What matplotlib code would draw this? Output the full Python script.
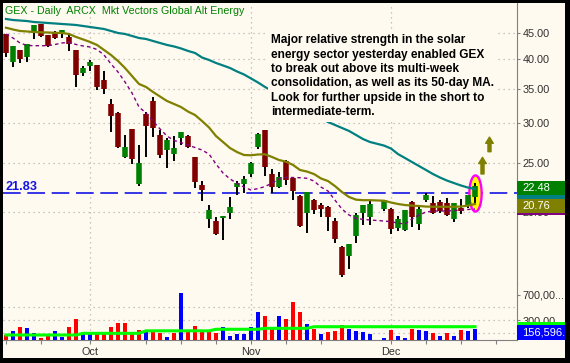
import matplotlib.pyplot as plt
import matplotlib.transforms as mtransforms
from matplotlib.patches import Rectangle
from matplotlib.path import Path
import numpy as np
import pandas as pd

plt.rcParams["font.family"] = ["Liberation Sans", "DejaVu Sans"]

nan = np.nan

# GEX daily bars 15 Sep - 17 Dec 2008, Thanksgiving (27 Nov) is blank
dates = pd.bdate_range("2008-09-15", "2008-12-17")
axis_days = pd.bdate_range("2008-09-15", "2008-12-26")

opens = [44.80, 39.47, 41.67, 40.37, 45.00, 46.81, 44.60, 44.94, 44.74, 44.26,
         41.67, 37.55, 38.76, 38.93, 36.38, 32.64, 31.37, 25.71, 29.15, 22.72,
         31.19, 33.08, 28.37, 26.50, 26.02, 28.02, 28.28, 25.71, 22.62, 19.40,
         19.22, 19.51, 19.95, 22.41, 22.72, 23.77, 26.86, 29.02, 23.77, 22.44,
         25.27, 23.35, 21.52, 19.95, 21.12, 20.66, 20.47, 19.22, 17.11, 16.42,
         17.98, 19.95, 19.60, nan, 20.25, 20.34, 18.59, 18.45, 20.97, 18.96,
         21.12, 20.82, 20.97, 20.82, 19.40, 20.38, 20.57, 21.40]
highs = [44.85, 42.45, 41.70, 42.85, 46.70, 46.85, 44.62, 45.47, 45.63, 45.00,
         41.70, 38.76, 39.83, 38.95, 37.89, 33.38, 31.47, 28.37, 29.18, 27.10,
         31.47, 33.68, 29.02, 27.98, 28.23, 28.75, 28.40, 25.73, 23.03, 20.66,
         19.57, 19.68, 21.45, 23.08, 23.56, 25.05, 28.56, 29.05, 24.29, 24.01,
         25.33, 23.38, 21.62, 21.96, 21.28, 20.85, 20.57, 19.45, 17.13, 17.34,
         19.90, 20.68, 21.08, nan, 21.14, 20.36, 19.62, 20.22, 21.04, 20.50,
         21.78, 21.52, 21.12, 21.33, 20.84, 21.23, 21.64, 22.79]
lows = [40.37, 38.58, 39.29, 39.47, 43.89, 44.20, 42.24, 43.79, 43.99, 41.54,
        35.30, 37.05, 37.89, 34.77, 34.15, 28.79, 26.78, 25.60, 24.88, 22.55,
        25.71, 28.15, 25.56, 24.43, 25.26, 27.10, 26.78, 22.34, 21.07, 18.64,
        18.04, 17.63, 19.40, 21.62, 21.84, 23.42, 26.62, 23.56, 21.81, 22.28,
        22.62, 21.12, 18.72, 18.23, 19.84, 19.57, 18.36, 17.43, 14.91, 15.46,
        17.43, 18.87, 18.87, nan, 20.14, 18.12, 18.40, 18.39, 18.70, 18.45,
        20.94, 19.84, 19.90, 19.62, 19.16, 19.84, 20.38, 20.82]
closes = [41.11, 42.43, 40.01, 42.82, 46.66, 44.46, 42.43, 43.93, 45.61, 42.76,
          37.21, 38.41, 39.52, 35.25, 34.93, 30.95, 26.90, 26.85, 25.44, 25.02,
          29.58, 29.24, 25.91, 27.73, 26.78, 28.71, 26.90, 22.95, 22.11, 20.20,
          18.12, 19.66, 20.47, 22.82, 23.21, 25.02, 28.43, 24.58, 22.38, 23.49,
          23.14, 22.04, 18.78, 21.94, 20.20, 20.29, 19.60, 17.71, 15.04, 17.32,
          19.75, 20.66, 20.75, nan, 21.12, 18.57, 19.40, 20.20, 19.60, 20.29,
          21.62, 19.97, 20.11, 19.75, 20.82, 20.11, 21.62, 22.48]
volumes = [70000, 132000, 195000, 179000, 101000, 23000, 70000, 132000, 39000, 195000,
           319000, 86000, 117000, 117000, 86000, 195000, 257000, 257000, 86000, 148000,
           148000, 148000, 101000, 39000, 101000, 724000, 148000, 210000, 148000, 132000,
           106000, 195000, 54000, 86000, 86000, 195000, 428000, 366000, 163000, 366000,
           319000, 584000, 428000, 241000, 163000, 86000, 117000, 132000, 226000, 163000,
           132000, 117000, 86000, nan, 23000, 148000, 54000, 23000, 163000, 148000,
           132000, 96000, 54000, 96000, 54000, 148000, 132000, 156596]

# moving averages as drawn on the chart
ma50 = [47.94, 47.72, 47.61, 47.50, 47.29, 47.19, 47.08, 46.98, 46.87, 46.77,
        46.66, 46.45, 46.24, 46.03, 45.82, 45.41, 45.00, 44.80, 44.40, 43.99,
        43.80, 43.40, 43.01, 42.63, 42.34, 41.96, 41.49, 41.11, 40.28, 39.83,
        39.29, 38.85, 38.41, 37.81, 37.30, 36.63, 35.97, 35.25, 34.61, 33.91,
        33.30, 32.78, 32.19, 31.69, 31.19, 30.63, 30.08, 29.68, 29.28, 28.89,
        28.37, 27.85, 27.48, nan, 27.04, 26.68, 26.02, 25.56, 25.10, 24.65,
        24.21, 23.77, 23.40, 23.08, 22.82, 22.57, 22.36, 22.21]
ma20 = [46.09, 45.72, 45.41, 45.31, 45.20, 45.14, 45.10, 45.04, 45.00, 44.80,
        44.20, 43.71, 43.21, 42.63, 41.67, 40.74, 39.64, 38.41, 37.04, 35.73,
        35.25, 34.46, 33.76, 33.08, 32.64, 32.19, 31.54, 31.05, 30.22, 29.35,
        28.23, 27.48, 26.74, 26.26, 25.91, 25.88, 25.97, 25.99, 25.68, 25.33,
        25.14, 24.77, 24.21, 24.04, 23.77, 23.30, 23.03, 22.51, 21.91, 21.43,
        21.17, 21.12, 21.12, nan, 21.07, 20.90, 20.76, 20.66, 20.61, 20.57,
        20.52, 20.50, 20.50, 20.50, 20.50, 20.52, 20.61, 20.76]
ma10 = [44.80, 43.99, 43.01, 42.53, 42.49, 42.49, 42.49, 42.72, 43.01, 43.15,
        42.72, 42.43, 42.24, 41.76, 40.74, 39.12, 37.72, 36.05, 34.30, 32.19,
        31.33, 30.22, 29.15, 28.23, 27.67, 27.41, 27.10, 26.80, 26.50, 26.02,
        24.88, 23.88, 23.25, 22.79, 22.41, 22.11, 22.26, 22.46, 22.82, 23.25,
        23.40, 23.40, 23.38, 23.32, 23.03, 22.41, 22.01, 21.12, 20.29, 19.75,
        19.44, 19.37, 19.31, nan, 19.22, 19.16, 19.04, 18.96, 19.40, 19.75,
        20.02, 20.11, 20.11, 20.11, 20.16, 20.20, 20.25, 20.29]
vol_ma = [70000, 70000, 70000, 70000, 70000, 70000, 70000, 70000, 70000, 70000,
          70000, 96000, 96000, 96000, 96000, 96000, 96000, 96000, 96000, 96000,
          135000, 135000, 135000, 135000, 135000, 135000, 135000, 135000, 135000, 135000,
          159000, 159000, 159000, 159000, 159000, 159000, 159000, 174000, 174000, 174000,
          174000, 174000, 174000, 174000, 199000, 199000, 199000, 199000, 199000, 199000,
          199000, 199000, 199000, nan, 199000, 199000, 199000, 199000, 199000, 199000,
          199000, 199000, 199000, 199000, 199000, 199000, 199000, 199000]

ref_level = 21.83
price_ticks = [20, 25, 30, 35, 40, 45]
vol_ticks = [300000, 700000]
vol_tick_labels = ["300,00", "700,00..."]
vol_grid = [100000, 300000, 500000]
tick_dates = ["2008-09-15", "2008-09-22", "2008-10-01", "2008-10-13", "2008-10-20",
              "2008-10-27", "2008-11-03", "2008-11-10", "2008-11-17", "2008-12-01",
              "2008-12-08", "2008-12-15", "2008-12-22"]
month_labels = {"2008-10-01": "Oct", "2008-11-03": "Nov", "2008-12-01": "Dec"}
# target arrows drawn after the breakout: (bars after last, from, to)
arrows = [(1.07, 23.78, 25.64), (2.07, 26.30, 28.10)]

note = ("Major relative strength in the solar\n"
        "energy sector yesterday enabled GEX\n"
        "to break out above its multi-week\n"
        "consolidation, as well as its 50-day MA.\n"
        "Look for further upside in the short to\n"
        "intermediate-term.")

CREAM = "#fffaf0"
GRID = "#b4b4b4"
AXC = "#808080"
TXT = "#303030"
MAROON = "#800000"
GREEN = "#008000"
TEAL = "#008080"
OLIVE = "#808000"
PURPLE = "#800080"
BLUE = "#1414e6"

o = np.array(opens); h = np.array(highs); lo = np.array(lows); c = np.array(closes)
vol = np.array(volumes, dtype=float)
x = np.arange(len(dates))
ok = ~np.isnan(c)

W, H = 570, 363
fig = plt.figure(figsize=(W / 100, H / 100), dpi=100, facecolor="black")


def frect(left, top, right, bottom):
    return [left / W, 1 - bottom / H, (right - left) / W, (bottom - top) / H]


fig.add_artist(Rectangle((3 / W, 5 / H), 562 / W, 355 / H, transform=fig.transFigure,
                         facecolor=CREAM, edgecolor="none", zorder=-5))

ax = fig.add_axes(frect(3, 3, 517, 283))
axv = fig.add_axes(frect(3, 283, 517, 339.5))
for a in (ax, axv):
    a.set_facecolor("none")
    for s in a.spines.values():
        s.set_visible(False)
    a.spines["right"].set_visible(True)
    a.spines["right"].set_color(AXC)
    a.set_xlim(-0.43, 73.0)
axv.spines["bottom"].set_visible(True)
axv.spines["bottom"].set_color(AXC)

ax.set_yscale("log")
ax.set_ylim(14.52, 51.54)
axv.set_ylim(0, 879000)

# price axis
ax.yaxis.tick_right()
ax.yaxis.set_minor_locator(plt.NullLocator())
ax.set_yticks(price_ticks, [f"{v:.2f}" for v in price_ticks])
ax.set_xticks([])
ax.tick_params(axis="y", direction="out", length=2.5, width=0.8, color=AXC,
               labelcolor=TXT, labelsize=7.8, pad=1.5)

# volume axis
axv.yaxis.tick_right()
axv.set_yticks(vol_ticks, vol_tick_labels)
axv.tick_params(axis="y", direction="out", length=2.5, width=0.8, color=AXC,
                labelcolor=TXT, labelsize=7.8, pad=1.5)
tick_pos = [axis_days.get_loc(pd.Timestamp(d)) for d in tick_dates]
axv.set_xticks(tick_pos, [month_labels.get(d, "") for d in tick_dates])
axv.tick_params(axis="x", direction="out", length=3, width=0.8, color=AXC,
                labelcolor=TXT, labelsize=7.8, pad=2.5)

# grid
dotted = (0, (1, 3))
for d in month_labels:
    p = axis_days.get_loc(pd.Timestamp(d))
    ax.axvline(p, color=GRID, lw=0.9, ls=dotted, zorder=0.5)
    axv.axvline(p, color=GRID, lw=0.9, ls=dotted, zorder=0.5)
for v in price_ticks:
    ax.axhline(v, color=GRID, lw=0.9, ls=dotted, zorder=0.5)
for v in vol_grid:
    axv.axhline(v, color=GRID, lw=0.9, ls=dotted, zorder=0.5)

# reference level
ax.axhline(ref_level, color=BLUE, lw=1.2, dashes=(10.6, 4.0), zorder=2)
blend = mtransforms.blended_transform_factory(ax.transAxes, ax.transData)
ax.annotate(f"{ref_level:.2f}", xy=(0.004, ref_level), xycoords=blend,
            xytext=(0, 2.4), textcoords="offset points", va="baseline", ha="left",
            color=BLUE, fontsize=9.2, fontweight="bold", zorder=8)

# highlight of last bar
last = np.flatnonzero(ok)[-1]
t = np.linspace(0, 2 * np.pi, 80)
ellipse = Path(np.column_stack([0.34 * np.cos(t), np.sin(t)]))
ax.plot([x[last]], [np.sqrt(h[last] * lo[last])], marker=ellipse, ms=26,
        mfc="#ffff00", mec="#ff00ff", mew=1.7, ls="none", zorder=2.5)

# candles: wick then body
up = c >= o
ax.vlines(x[ok], lo[ok], h[ok], color="black", lw=1.4, zorder=3)
ax.vlines(x[ok], np.minimum(o, c)[ok], np.maximum(o, c)[ok], lw=4.0,
          color=np.where(up, GREEN, MAROON)[ok], zorder=4)

# moving averages
ax.plot(x[ok], np.array(ma50)[ok], color=TEAL, lw=1.6, zorder=5)
ax.plot(x[ok], np.array(ma20)[ok], color=OLIVE, lw=1.6, zorder=5)
ax.plot(x[ok], np.array(ma10)[ok], color=PURPLE, lw=1.0, dashes=(2.5, 2.2), zorder=5)

# arrows
for dx, y0, y1 in arrows:
    ax.annotate("", xy=(x[last] + dx, y1), xytext=(x[last] + dx, y0),
                arrowprops=dict(arrowstyle="simple,head_length=0.45,head_width=0.55,tail_width=0.22",
                                color=OLIVE, shrinkA=0, shrinkB=0, mutation_scale=10), zorder=6)

# volume
prev = pd.Series(c).ffill().shift()
vcol = np.where(c >= prev.values, "#0000ff", "#ff0000")
axv.bar(x[ok], vol[ok], width=0.5, color=vcol[ok], zorder=3)
axv.plot(x[ok], np.array(vol_ma)[ok], color="#00ff00", lw=2.2, zorder=4)

# texts
ax.text(0.004, 0.971, "GEX - Daily  ARCX  Mkt Vectors Global Alt Energy", transform=ax.transAxes,
        color=GREEN, fontsize=7.7, va="center", ha="left", zorder=8)
ax.text(0.5214, 0.889, note, transform=ax.transAxes, fontsize=8.6, fontweight="bold",
        color="black", va="top", ha="left", linespacing=1.27, zorder=8,
        bbox=dict(facecolor=CREAM, edgecolor="none", pad=2.5))


# value tags in the right-hand column (dy in pixels, positive = down)
def tag(axis, value, color, text=None, dy=0.0, hgt=14.0, z=6):
    tr = mtransforms.blended_transform_factory(axis.transAxes, axis.transData)
    yc = axis.transData.transform((0, value))[1] - dy
    inv = axis.transData.inverted()
    y0 = inv.transform((0, yc - hgt / 2))[1]
    y1 = inv.transform((0, yc + hgt / 2))[1]
    axis.add_patch(Rectangle((1.0, y0), 0.095, y1 - y0, transform=tr, facecolor=color,
                             edgecolor="none", clip_on=False, zorder=z))
    if text:
        axis.text(1.0097, inv.transform((0, yc))[1], text, transform=tr, color="white",
                  fontsize=8, va="center", ha="left", clip_on=False, zorder=z + 0.5)


tag(ax, ma10[-1], PURPLE, dy=-1.5, z=6)
tag(ax, ma50[-1], TEAL, dy=3, z=6.1)
tag(ax, ma20[-1], OLIVE, f"{ma20[-1]:.2f}", dy=2, z=6.2)
tag(ax, closes[-1], GREEN, f"{closes[-1]:.2f}", dy=1.6, z=6.4)
tag(axv, vol_ma[-1], "#00ff00", dy=1.8, z=6)
tag(axv, 0, "#0000ff", f"{volumes[-1]:,.2f}", dy=-7.25, hgt=14.5, z=6.2)

# black frame
for bx, by, bw, bh in [(0, 0, 3, H), (565, 0, 5, H), (0, 0, W, 5), (0, 360, W, 3)]:
    fig.add_artist(Rectangle((bx / W, by / H), bw / W, bh / H, transform=fig.transFigure,
                             facecolor="black", edgecolor="none", zorder=20))

fig.savefig("out.png", dpi=100, facecolor="black")
